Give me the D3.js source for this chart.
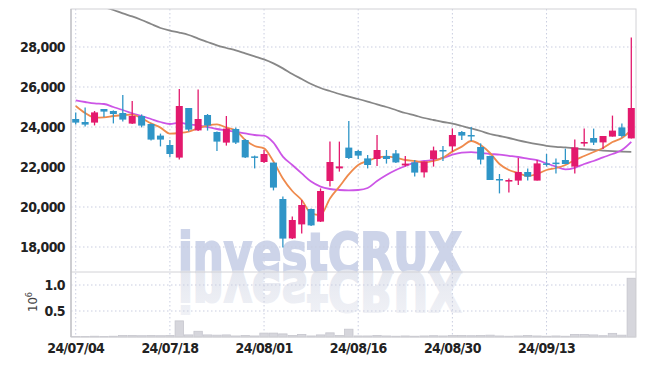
<!DOCTYPE html>
<html>
<head>
<meta charset="utf-8">
<script src="https://cdn.jsdelivr.net/npm/d3@7"></script>
<style>
body { margin: 0; background: #fff; }
text { font-family: "DejaVu Sans Condensed", "Liberation Sans", sans-serif; }
</style>
</head>
<body>
<svg id="chart" width="645" height="366"></svg>
<script>
var dates = ["24/07/04","24/07/05","24/07/08","24/07/09","24/07/10","24/07/11","24/07/12","24/07/15","24/07/16","24/07/17",
    "24/07/18","24/07/19","24/07/22","24/07/23","24/07/24","24/07/25","24/07/26","24/07/29","24/07/30","24/07/31",
    "24/08/01","24/08/02","24/08/05","24/08/06","24/08/07","24/08/08","24/08/09","24/08/12","24/08/13","24/08/14",
    "24/08/16","24/08/19","24/08/20","24/08/21","24/08/22","24/08/23","24/08/26","24/08/27","24/08/28","24/08/29",
    "24/08/30","24/09/02","24/09/03","24/09/04","24/09/05","24/09/06","24/09/09","24/09/10","24/09/11","24/09/12",
    "24/09/13","24/09/19","24/09/20","24/09/23","24/09/24","24/09/25","24/09/26","24/09/27","24/09/30","24/10/02"];

var openP  = [24400,24250,24220,24900,24800,24700,24170,24550,24150,23570, 23100,22470,24950,23830,24600,23750,23220,23900,23350,22530,
              22250,22220,20400,18430,19130,19900,19270,21300,21930,22970, 22800,22430,22400,22550,22680,22080,22230,21730,22400,22850,
              23030,23750,23600,23000,22550,21400,21270,21320,21750,21320, 22180,22220,22350,22020,23170,23450,23230,23520,23980,23430];
var highP  = [24730,24970,24800,24900,24830,25600,25300,24630,24180,23670, 23350,25900,24950,25870,24650,23780,24550,23980,23400,22570,
              22850,22220,20530,19520,20350,19930,20930,23270,23270,24300, 22850,22600,23600,22850,22850,22550,22350,22270,23020,23050,
              23930,23800,24000,23180,22570,21650,21430,22450,21930,22350, 22650,22430,22920,23380,23920,23920,23550,24570,24180,28480];
var lowP   = [24130,24030,24080,24500,24180,24270,24150,23980,23330,23030, 22500,22370,23770,23800,23820,22800,23070,23150,22450,21930,
              22200,20830,17970,18400,18680,19050,19250,21020,21770,22400, 22400,21930,22050,22170,22200,22020,21520,21470,22020,22300,
              22770,23350,23300,22130,21350,20680,20730,21100,21320,21320, 22020,21680,22150,21680,23020,23100,22900,23520,23480,23430];
var closeP = [24220,24120,24730,24770,24650,24370,24550,24070,23370,23370, 22650,25050,23870,24400,24080,23270,23920,23220,22480,22480,
              22650,20970,18420,19350,20100,19080,20800,22250,22030,22450, 22570,22100,22850,22400,22230,22170,21720,22270,22830,22820,
              23600,23570,23530,22370,21350,21370,21350,21750,21520,22180, 22120,22150,22150,22980,23250,23220,23550,23820,23550,24950];

var ma5  = [25050,24700,24470,24480,24550,24600,24620,24430,24180,23970, 23670,23700,23770,23930,24070,24130,23970,23820,23350,23050,
            22930,22270,21430,20800,20350,19680,19600,20430,21020,21630, 22100,22300,22470,22520,22470,22350,22300,22230,22300,22470,
            22770,23020,23300,23100,22700,22150,21850,21700,21550,21650, 21850,21950,22100,22350,22550,22750,22950,23250,23450,23850];
var ma20 = [25330,25250,25180,25150,25000,24850,24680,24550,24400,24250, 24150,24220,24130,24080,24000,23900,23830,23750,23680,23600,
            23570,23220,22520,22100,21680,21270,21020,20900,20850,20830, 20850,20950,21300,21600,21850,22050,22220,22300,22350,22450,
            22620,22720,22740,22700,22650,22620,22560,22500,22420,22340, 22180,22020,21880,21960,22150,22300,22480,22650,22850,23260];
var ma60 = [30500,30350,30200,30000,29850,29680,29530,29350,29150,28950, 28820,28720,28600,28420,28250,28080,27950,27830,27680,27530,
            27380,27180,26930,26650,26400,26150,25950,25800,25650,25520, 25400,25270,25130,25000,24850,24700,24580,24450,24350,24250,
            24170,24050,23930,23800,23650,23550,23450,23330,23230,23140, 23060,23010,22980,22930,22890,22860,22820,22790,22770,22760];

var volume = [0.01,0.01,0.015,0.01,0.015,0.03,0.03,0.025,0.03,0.025, 0.03,0.31,0.04,0.11,0.04,0.035,0.04,0.02,0.03,0.02,
              0.075,0.075,0.06,0.03,0.05,0.02,0.04,0.08,0.03,0.15, 0.02,0.02,0.03,0.02,0.015,0.02,0.015,0.02,0.025,0.02,
              0.03,0.03,0.025,0.03,0.035,0.02,0.015,0.02,0.03,0.02, 0.015,0.02,0.015,0.05,0.05,0.04,0.025,0.07,0.035,1.13];

var priceTicks = [18000, 20000, 22000, 24000, 26000, 28000];
var volumeTicks = [0.5, 1.0];
var dateTicks = ["24/07/04", "24/07/18", "24/08/01", "24/08/16", "24/08/30", "24/09/13"];

var plotLeft = 71, plotRight = 636, plotTop = 9, mainBottom = 272, volBottom = 337;
var upColor = "#e3196d", downColor = "#2f95c7", gridColor = "#c9cde0";

var svg = d3.select("#chart");

var x = d3.scaleBand().domain(dates).range([plotLeft, plotRight]).padding(0);
var y = d3.scaleLinear().domain([16750, 29900]).range([mainBottom, plotTop]);
var yVol = d3.scaleLinear().domain([0, 1.25]).range([volBottom, mainBottom]);
function cx(i) { return x(dates[i]) + x.bandwidth() / 2; }

var defs = svg.append("defs");
defs.append("clipPath").attr("id", "clipMain")
  .append("rect").attr("x", plotLeft).attr("y", plotTop)
  .attr("width", plotRight - plotLeft).attr("height", mainBottom - plotTop);
var grad = defs.append("linearGradient").attr("id", "fade")
    .attr("x1", 0).attr("y1", 0).attr("x2", 0).attr("y2", 1);
grad.append("stop").attr("offset", "0%").attr("stop-color", "#f2f3f7");
grad.append("stop").attr("offset", "100%").attr("stop-color", "#e2e5ee");

// watermark, drawn first so it sits behind everything
var wm = svg.append("g");
wm.append("text")
    .attr("x", 178).attr("y", 272)
    .attr("textLength", 284).attr("lengthAdjust", "spacingAndGlyphs")
    .style("font-size", "56px").style("font-weight", "bold")
    .style("fill", "#cdd4e9").style("stroke", "#cdd4e9").style("stroke-width", 2)
    .text("investCRUX");
wm.append("text")
    .attr("x", 178).attr("y", -272)
    .attr("transform", "scale(1,-1)")
    .attr("textLength", 284).attr("lengthAdjust", "spacingAndGlyphs")
    .style("font-size", "56px").style("font-weight", "bold")
    .style("fill", "url(#fade)").style("stroke", "url(#fade)").style("stroke-width", 2)
    .text("investCRUX");

// grid
svg.append("g").selectAll("line")
    .data(priceTicks).enter().append("line")
    .attr("x1", plotLeft).attr("x2", plotRight)
    .attr("y1", function(d) { return y(d); }).attr("y2", function(d) { return y(d); })
    .attr("stroke", gridColor).attr("stroke-dasharray", "1.5,2.5");
svg.append("g").selectAll("line")
    .data(volumeTicks).enter().append("line")
    .attr("x1", plotLeft).attr("x2", plotRight)
    .attr("y1", function(d) { return yVol(d); }).attr("y2", function(d) { return yVol(d); })
    .attr("stroke", gridColor).attr("stroke-dasharray", "1.5,2.5");
svg.append("g").selectAll("line")
    .data(dateTicks).enter().append("line")
    .attr("x1", function(d) { return x(d) + x.bandwidth() / 2; })
    .attr("x2", function(d) { return x(d) + x.bandwidth() / 2; })
    .attr("y1", plotTop).attr("y2", volBottom)
    .attr("stroke", gridColor).attr("stroke-dasharray", "1.5,2.5");

// volume bars
svg.append("g").selectAll("rect")
    .data(volume).enter().append("rect")
    .attr("x", function(d, i) { return x(dates[i]) + 0.5; })
    .attr("width", x.bandwidth() - 1)
    .attr("y", function(d) { return yVol(d); })
    .attr("height", function(d) { return volBottom - yVol(d); })
    .attr("fill", "#d6d6dc").attr("stroke", "#c6c6ce").attr("stroke-width", 0.8);

// moving averages
var idx = d3.range(dates.length);
var lines = svg.append("g").attr("clip-path", "url(#clipMain)");
[[ma60, "#878787"], [ma20, "#cc55e6"], [ma5, "#ef8a4c"]].forEach(function(s) {
    lines.append("path")
        .datum(idx)
        .attr("fill", "none")
        .attr("stroke", s[1])
        .attr("stroke-width", 1.8)
        .attr("d", d3.line()
            .x(function(i) { return cx(i); })
            .y(function(i) { return y(s[0][i]); })
            .curve(d3.curveMonotoneX));
});

// candles
var candles = svg.append("g").selectAll("g")
    .data(idx).enter().append("g");
candles.append("line")
    .attr("x1", function(i) { return cx(i); }).attr("x2", function(i) { return cx(i); })
    .attr("y1", function(i) { return y(highP[i]); }).attr("y2", function(i) { return y(lowP[i]); })
    .attr("stroke", function(i) { return closeP[i] >= openP[i] ? upColor : downColor; })
    .attr("stroke-width", 1.3);
candles.append("rect")
    .attr("x", function(i) { return cx(i) - 3.5; })
    .attr("width", 7)
    .attr("y", function(i) { return y(Math.max(openP[i], closeP[i])); })
    .attr("height", function(i) { return Math.max(1.5, Math.abs(y(openP[i]) - y(closeP[i]))); })
    .attr("fill", function(i) { return closeP[i] >= openP[i] ? upColor : downColor; });

// frame
svg.append("rect")
    .attr("x", plotLeft).attr("y", plotTop)
    .attr("width", plotRight - plotLeft).attr("height", volBottom - plotTop)
    .attr("fill", "none").attr("stroke", "#d2d2d6");
svg.append("line")
    .attr("x1", plotLeft).attr("x2", plotRight).attr("y1", mainBottom).attr("y2", mainBottom)
    .attr("stroke", "#d2d2d6");
svg.append("line")
    .attr("x1", plotLeft).attr("x2", plotLeft).attr("y1", plotTop).attr("y2", volBottom)
    .attr("stroke", "#c4c4c8").attr("stroke-width", 1.5);

// axes
var yAxis = svg.append("g")
    .attr("transform", "translate(" + plotLeft + ",0)")
    .call(d3.axisLeft(y).tickValues(priceTicks).tickSize(0).tickPadding(6).tickFormat(d3.format(",")));
var volAxis = svg.append("g")
    .attr("transform", "translate(" + plotLeft + ",0)")
    .call(d3.axisLeft(yVol).tickValues(volumeTicks).tickSize(0).tickPadding(6).tickFormat(d3.format(".1f")));
var xAxis = svg.append("g")
    .attr("transform", "translate(0," + volBottom + ")")
    .call(d3.axisBottom(x).tickValues(dateTicks).tickSize(0).tickPadding(6));
[yAxis, volAxis, xAxis].forEach(function(a) {
    a.select(".domain").remove();
    a.selectAll("text")
        .style("font-family", "\"DejaVu Sans Condensed\", sans-serif")
        .style("font-size", "14px").style("font-weight", "bold")
        .style("letter-spacing", "-0.6px").style("fill", "#222");
});

var unit = svg.append("text")
    .attr("transform", "translate(37,302) rotate(-90)")
    .attr("text-anchor", "middle")
    .style("font-size", "13px").style("fill", "#444");
unit.append("tspan").text("10");
unit.append("tspan").attr("dy", -5).style("font-size", "9px").text("6");
</script>
</body>
</html>
